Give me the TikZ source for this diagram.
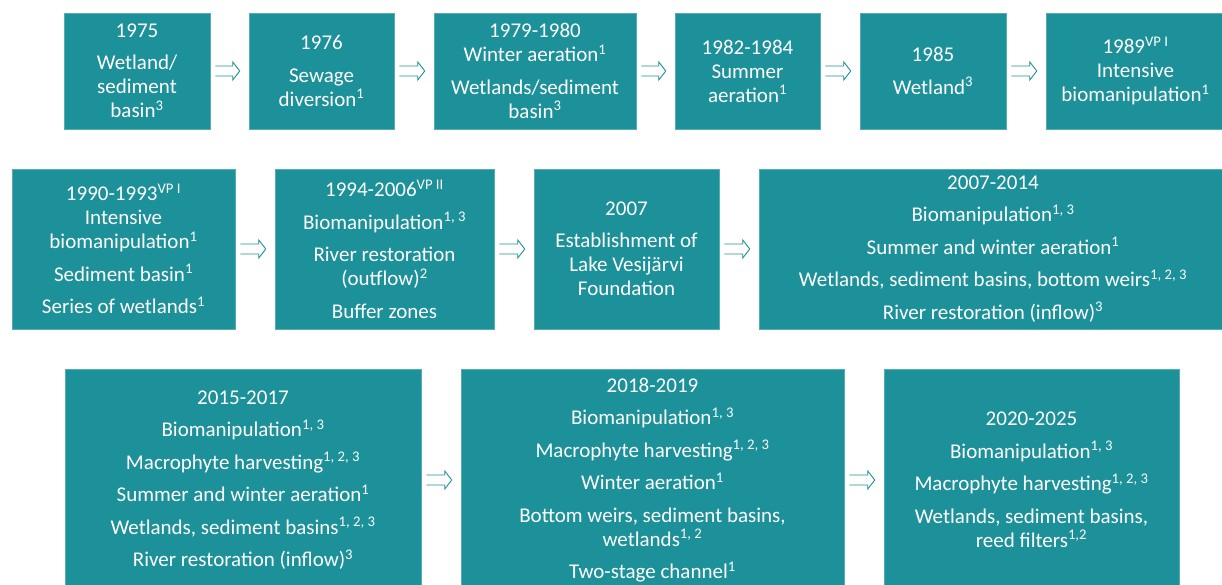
\documentclass[tikz,border=0pt]{standalone}
\usepackage{fontspec}
\setmainfont{Carlito}
\usetikzlibrary{calc}
\definecolor{tealbox}{HTML}{1C9199}
\newcommand\su[1]{\textsuperscript{#1}}
\newcommand\conn[2]{%
  \draw[arr] let \p1=(#1.east), \p2=(#2.west) in
    (\x1+5pt,\y1+5pt) -- (\x2-16pt,\y1+5pt) -- (\x2-16pt,\y1+9pt) -- (\x2-9pt,\y1)
    -- (\x2-16pt,\y1-9pt) -- (\x2-16pt,\y1-5pt) -- (\x1+5pt,\y1-5pt);}
\begin{document}
\begin{tikzpicture}[x=1pt,y=-1pt,
  box/.style={fill=tealbox, draw=tealbox!75!white, line width=0.5pt, text=white, align=center,
    inner sep=0pt, font=\fontsize{21}{24}\selectfont},
  arr/.style={draw=tealbox, line width=0.9pt, line join=miter}]
\useasboundingbox (0,0) rectangle (1222,585);
\clip (0,0) rectangle (1222,585);
% row 1
\node[box, minimum width=146, minimum height=116] (b1) at (137,71)
  {1975\\[8.5pt]Wetland/\\sediment\\basin\su{3}};
\node[box, minimum width=145, minimum height=116] (b2) at (321.5,71)
  {1976\\[8.5pt]Sewage\\diversion\su{1}};
\node[box, minimum width=202, minimum height=116] (b3) at (535,71)
  {1979-1980\\Winter aeration\su{1}\\[8.5pt]Wetlands/sediment\\basin\su{3}};
\node[box, minimum width=145, minimum height=116] (b4) at (747.5,71)
  {1982-1984\\Summer\\aeration\su{1}};
\node[box, minimum width=146, minimum height=116] (b5) at (933,71)
  {1985\\[8.5pt]Wetland\su{3}};
\node[box, minimum width=179, minimum height=116] (b6) at (1135.5,71)
  {1989\su{VP I}\\Intensive\\biomanipulation\su{1}};
% row 2
\node[box, minimum width=223, minimum height=160] (b7) at (123.5,249)
  {1990-1993\su{VP I}\\Intensive\\biomanipulation\su{1}\\[8.5pt]Sediment basin\su{1}\\[8.5pt]Series of wetlands\su{1}};
\node[box, minimum width=219, minimum height=160] (b8) at (384.5,249)
  {1994-2006\su{VP II}\\[8.5pt]Biomanipulation\su{1, 3}\\[8.5pt]River restoration\\(outflow)\su{2}\\[8.5pt]Buffer zones};
\node[box, minimum width=185, minimum height=160] (b9) at (626.5,249)
  {2007\\[8.5pt]Establishment of\\Lake Vesijärvi\\Foundation};
\node[box, minimum width=468, minimum height=160] (b10) at (993,249)
  {2007-2014\\[8.5pt]Biomanipulation\su{1, 3}\\[8.5pt]Summer and winter aeration\su{1}\\[8.5pt]Wetlands, sediment basins, bottom weirs\su{1, 2, 3}\\[8.5pt]River restoration (inflow)\su{3}};
% row 3
\node[box, minimum width=356, minimum height=222] (b11) at (243,480)
  {2015-2017\\[8.5pt]Biomanipulation\su{1, 3}\\[8.5pt]Macrophyte harvesting\su{1, 2, 3}\\[8.5pt]Summer and winter aeration\su{1}\\[8.5pt]Wetlands, sediment basins\su{1, 2, 3}\\[8.5pt]River restoration (inflow)\su{3}};
\node[box, minimum width=383, minimum height=222] (b12) at (652.5,480)
  {2018-2019\\[8.5pt]Biomanipulation\su{1, 3}\\[8.5pt]Macrophyte harvesting\su{1, 2, 3}\\[8.5pt]Winter aeration\su{1}\\[8.5pt]Bottom weirs, sediment basins,\\wetlands\su{1, 2}\\[8.5pt]Two-stage channel\su{1}};
\node[box, minimum width=295, minimum height=222] (b13) at (1031.5,480)
  {2020-2025\\[8.5pt]Biomanipulation\su{1, 3}\\[8.5pt]Macrophyte harvesting\su{1, 2, 3}\\[8.5pt]Wetlands, sediment basins,\\reed filters\su{1,2}};
% connectors
\conn{b1}{b2}
\conn{b2}{b3}
\conn{b3}{b4}
\conn{b4}{b5}
\conn{b5}{b6}
\conn{b7}{b8}
\conn{b8}{b9}
\conn{b9}{b10}
\conn{b11}{b12}
\conn{b12}{b13}
\end{tikzpicture}
\end{document}
